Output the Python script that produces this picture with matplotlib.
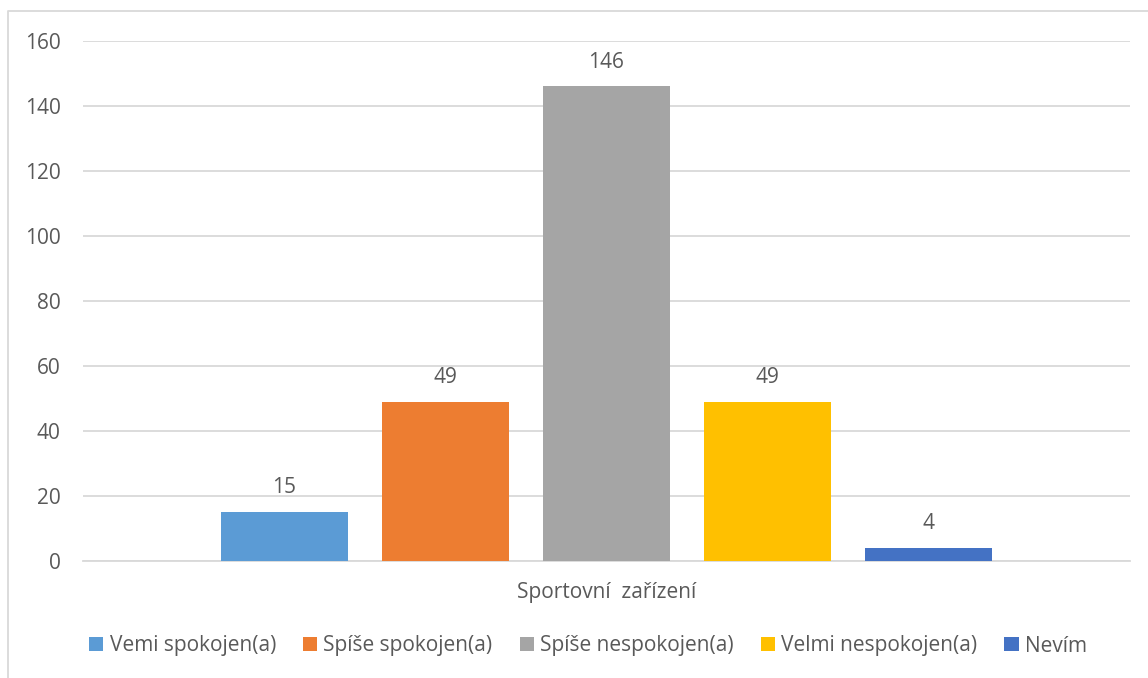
import matplotlib
matplotlib.use("Agg")
import matplotlib.pyplot as plt
import numpy as np

plt.rcParams['font.family'] = ['Open Sans', 'DejaVu Sans']

# data
category = 'Sportovní  zařízení'
series = ['Vemi spokojen(a)', 'Spíše spokojen(a)', 'Spíše nespokojen(a)',
          'Velmi nespokojen(a)', 'Nevím']
values = [15, 49, 146, 49, 4]
colors = ['#5B9BD5', '#ED7D31', '#A5A5A5', '#FFC000', '#4472C4']

text_col = '#595959'
grid_col = '#D9D9D9'

fig = plt.figure(figsize=(11.48, 6.78), dpi=100)
ax = fig.add_axes([83 / 1148, 1 - 561 / 678, (1130 - 83) / 1148, 520 / 678])

width = 0.1213
step = 0.1538
n = len(values)
for i, (name, v, c) in enumerate(zip(series, values, colors)):
    x = (i - (n - 1) / 2) * step
    bars = ax.bar(x, v, width, color=c, label=name, zorder=3)
    ax.annotate(str(v), xy=(x, v), xytext=(0, 10), textcoords='offset points',
                ha='center', va='bottom', fontsize=15, color=text_col)

ax.set_xlim(-0.5, 0.5)
ax.set_ylim(0, 160)
ax.set_yticks(np.arange(0, 161, 20))
ax.set_xticks([0])
ax.set_xticklabels([category])
ax.tick_params(axis='both', length=0, labelsize=15, labelcolor=text_col)
ax.tick_params(axis='y', pad=16)
ax.tick_params(axis='x', pad=15)
ax.yaxis.grid(True, color=grid_col, linewidth=1.3, zorder=0)
for s in ['top', 'right', 'left']:
    ax.spines[s].set_visible(False)
ax.spines['bottom'].set_color(grid_col)
ax.spines['bottom'].set_linewidth(1.3)

leg = fig.legend(loc='center', bbox_to_anchor=(588 / 1148, 1 - 646 / 678), ncol=5,
                 frameon=False, fontsize=15, handlelength=0.68, handleheight=0.68,
                 handletextpad=0.3, columnspacing=1.3)
for t in leg.get_texts():
    t.set_color(text_col)

# chart border (only left and top visible in the crop)
fig.add_artist(plt.Line2D([8 / 1148, 8 / 1148, 1.0], [0, 1 - 11 / 678, 1 - 11 / 678],
                          transform=fig.transFigure, color=grid_col, linewidth=1.3))

fig.savefig('out.png', dpi=100)
